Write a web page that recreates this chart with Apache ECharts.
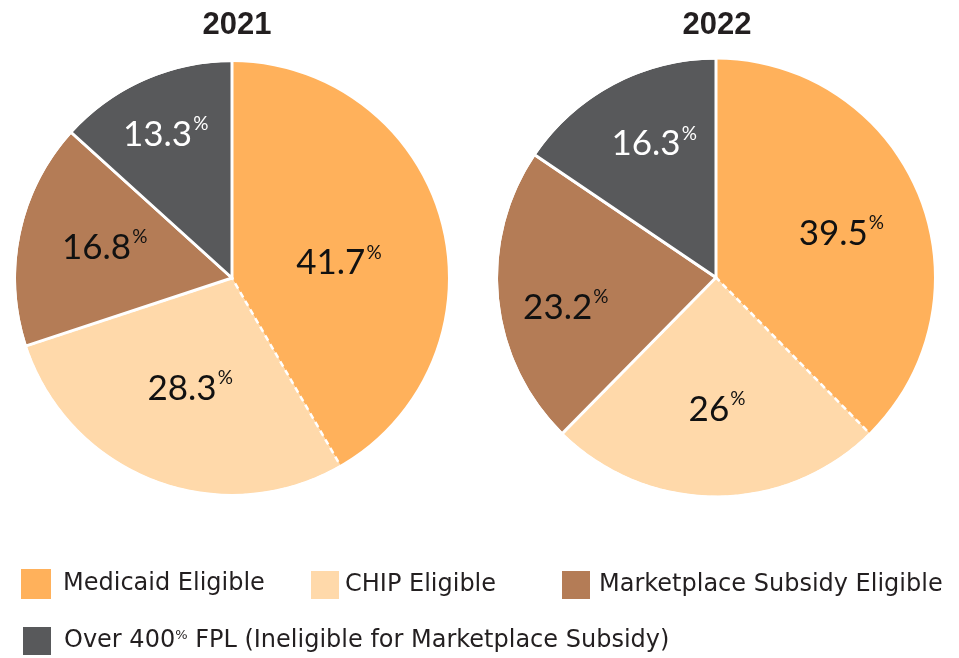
<!DOCTYPE html>
<html>
<head>
<meta charset="utf-8">
<script src="https://cdn.jsdelivr.net/npm/echarts@6/dist/echarts.min.js"></script>
<style>
  html, body { margin: 0; padding: 0; background: #fff; }
  #chart { width: 959px; height: 658px; }
</style>
</head>
<body>
<div id="chart"></div>
<script>
  // data
  var categories = ['Medicaid Eligible', 'CHIP Eligible', 'Marketplace Subsidy Eligible', 'Over 400% FPL (Ineligible for Marketplace Subsidy)'];
  var years = ['2021', '2022'];
  var values2021 = [41.7, 28.3, 16.8, 13.3];
  var values2022 = [39.5, 26, 23.2, 16.3];

  var colors = ['#FFB15B', '#FFD9AA', '#B47C56', '#58595B'];
  var labelColors = ['#111', '#111', '#111', '#fff'];
  // small nudges so labels sit where the original put them
  var nudge2021 = [[-1, 14], [-2, 6], [-18, -7], [-21, -41]];
  var nudge2022 = [[21, -1], [1, 19], [-38, 19], [-9, -34]];

  var labelFont = 'Lato, "Noto Sans", sans-serif';
  var legendFont = '"DejaVu Sans", "Noto Sans", sans-serif';

  function sliceStyle(i) {
    // medicaid: no border, chip: dashed white, others solid white
    if (i === 0) return { color: colors[i], borderWidth: 0 };
    if (i === 1) return { color: colors[i], borderColor: '#fff', borderWidth: 2.5, borderType: [6, 4] };
    return { color: colors[i], borderColor: '#fff', borderWidth: 3 };
  }

  function buildData(vals) {
    return vals.map(function (v, i) {
      return {
        name: categories[i],
        value: v,
        itemStyle: sliceStyle(i),
        label: {
          rich: {
            v: { fontFamily: labelFont, fontSize: 35, color: labelColors[i], lineHeight: 40 },
            p: { fontFamily: labelFont, fontSize: 19, color: labelColors[i], verticalAlign: 'top', lineHeight: 20, padding: [0, 0, 12, 1] }
          }
        }
      };
    });
  }

  function pieSeries(name, vals, center, radius, nudge) {
    return {
      name: name,
      type: 'pie',
      center: center,
      radius: radius + 1.5,
      startAngle: 90,
      clockwise: true,
      silent: true,
      label: {
        show: true,
        position: 'inner',
        formatter: function (p) { return '{v|' + p.value + '}{p|%}'; }
      },
      labelLine: { show: false },
      labelLayout: function (params) {
        var n = nudge[params.dataIndex];
        return { dx: n[0], dy: n[1] };
      },
      data: buildData(vals)
    };
  }

  // thin white ring on top to hide the dashed stroke along the outer arc
  function edgeRing(center, radius) {
    return {
      type: 'pie',
      center: center,
      radius: [radius, radius + 4],
      silent: true,
      label: { show: false },
      labelLine: { show: false },
      itemStyle: { color: '#fff', borderWidth: 0 },
      data: [{ name: 'edge', value: 1 }]
    };
  }

  var legendText = {
    fontFamily: legendFont,
    fontSize: 24,
    color: '#231f20',
    rich: {
      s: { fontFamily: legendFont, fontSize: 13, color: '#231f20', verticalAlign: 'top', lineHeight: 14, padding: [0, 0, 10, 0] }
    }
  };

  function legendAt(name, left, top, gap) {
    return {
      data: [name],
      left: left,
      top: top,
      itemWidth: 30,
      itemHeight: 30,
      icon: 'rect',
      selectedMode: false,
      padding: 0,
      formatter: function (n) { return n.replace('400%', '400{s|%}'); },
      textStyle: Object.assign({ padding: [0, 0, 0, gap] }, legendText)
    };
  }

  var titleText = { fontFamily: '"Liberation Sans", Arial, sans-serif', fontWeight: 'bold', fontSize: 31, color: '#231f20' };

  var chart = echarts.init(document.getElementById('chart'));
  var option = {
    backgroundColor: '#fff',
    animation: false,
    color: colors,
    title: [
      { text: years[0], left: 232, top: 5, textAlign: 'center', textStyle: titleText },
      { text: years[1], left: 712, top: 5, textAlign: 'center', textStyle: titleText }
    ],
    legend: [
      legendAt(categories[0], 21, 569, 7),
      legendAt(categories[1], 309, 569, 0),
      legendAt(categories[2], 560, 569, 3),
      legendAt(categories[3], 21, 625, 7)
    ],
    series: [
      pieSeries(years[0], values2021, [232, 278], 216, nudge2021),
      pieSeries(years[1], values2022, [716, 277.5], 218, nudge2022),
      edgeRing([232, 278], 216),
      edgeRing([716, 277.5], 218)
    ]
  };
  chart.setOption(option);
</script>
</body>
</html>
